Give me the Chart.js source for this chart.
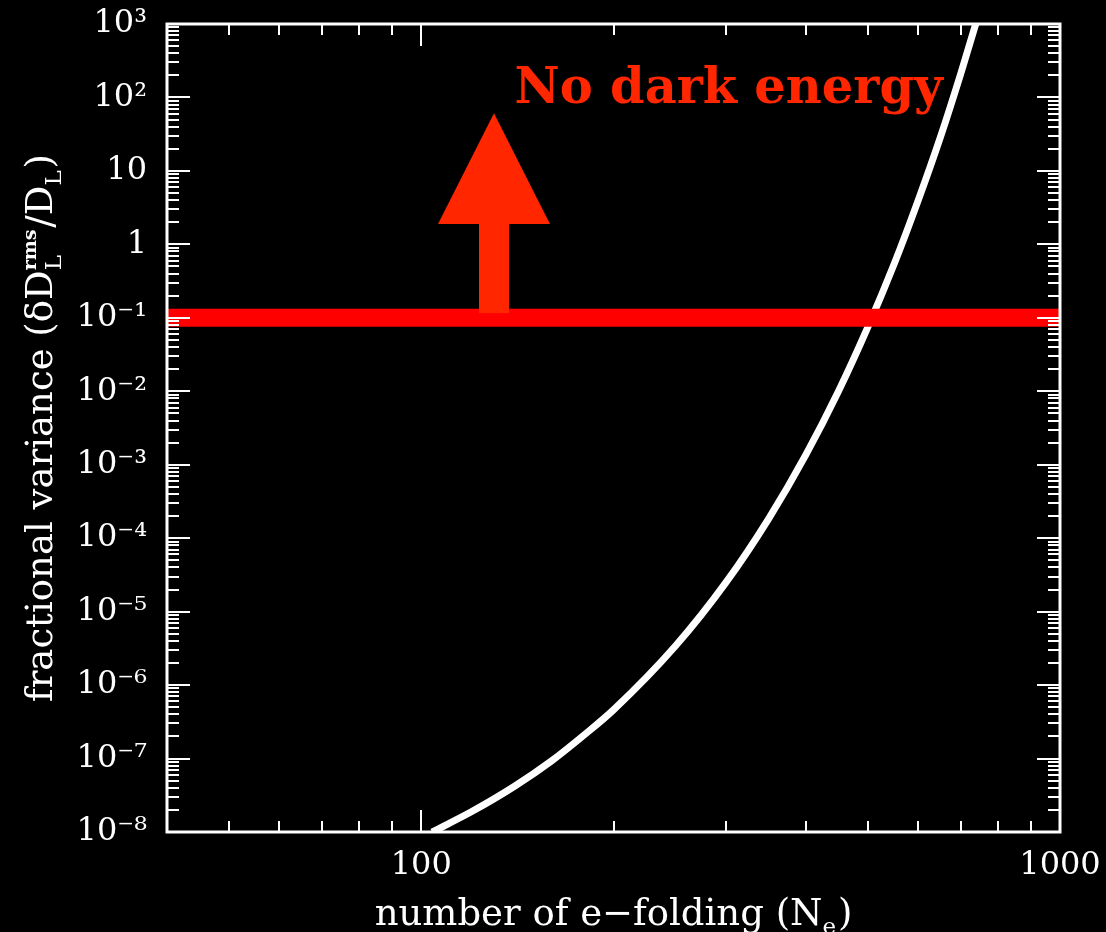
<!DOCTYPE html>
<html>
<head>
<meta charset="utf-8">
<script src="https://cdn.jsdelivr.net/npm/chart.js@4.4.1/dist/chart.umd.min.js"></script>
<style>
html,body{margin:0;padding:0;background:#000;}
#wrap{width:1106px;height:932px;position:relative;}
canvas{display:block;}
</style>
</head>
<body>
<div id="wrap"><canvas id="c" width="1106" height="932"></canvas></div>
<script>
// ---- data ----
const curveN   = [104, 120, 140, 160, 180, 200, 250, 300, 350, 400, 450, 500, 550, 600, 650, 700, 738];
const curveVar = [1.0e-8, 1.9e-8, 4.2e-8, 9.3e-8, 2.1e-7, 4.6e-7, 3.4e-6, 2.5e-5, 1.85e-4, 1.36e-3, 1.0e-2, 7.4e-2, 0.54, 4.0, 29, 217, 1000];
const thresholdN   = [40, 1000];
const thresholdVar = [0.1, 0.1];

const xTickValues = [40, 50, 60, 70, 80, 90, 100, 200, 300, 400, 500, 600, 700, 800, 900, 1000];
const xTickLabels = ['', '', '', '', '', '', '100', '', '', '', '', '', '', '', '', '1000'];
const yDecades     = [1e-8, 1e-7, 1e-6, 1e-5, 1e-4, 1e-3, 1e-2, 1e-1, 1, 10, 100, 1000];
const yDecadeLabels = ['10\u207B\u2078', '10\u207B\u2077', '10\u207B\u2076', '10\u207B\u2075', '10\u207B\u2074', '10\u207B\u00B3', '10\u207B\u00B2', '10\u207B\u00B9', '1', '10', '10\u00B2', '10\u00B3'];
const yMinorMultipliers = [2, 3, 4, 5, 6, 7, 8, 9];

const noteText = 'No dark energy';
const noteN = 140, noteVar = 84;
const arrowN = 130, arrowTipVar = 61, arrowHeadVar = 1.9, arrowTailVar = 0.116;

const xTitleSegs = [{t: 'number of e\u2212folding (N'}, {t: 'e', sub: true}, {t: ')'}];
const yTitleSegs = [{t: 'fractional variance (\u03B4D'}, {stackSup: 'rms', stackSub: 'L'}, {t: '/D'}, {t: 'L', sub: true}, {t: ')'}];

// ---- styles ----
const ACCENT = '#ff2600';
const FONT = "'DejaVu Serif', serif";

function isDecade(v) {
  const l = Math.log10(v);
  return Math.abs(l - Math.round(l)) < 1e-6;
}
const yTickValues = [];
yDecades.forEach((d, i) => {
  yTickValues.push(d);
  if (i < yDecades.length - 1) yMinorMultipliers.forEach(m => yTickValues.push(d * m));
});
yTickValues.sort((a, b) => a - b);

function richWidth(ctx, segs, size) {
  let w = 0;
  segs.forEach(s => {
    if (s.stackSup !== undefined) {
      ctx.font = `bold ${Math.round(size * 0.5)}px ${FONT}`;
      const a = ctx.measureText(s.stackSup).width;
      ctx.font = `${Math.round(size * 0.62)}px ${FONT}`;
      const b = ctx.measureText(s.stackSub).width;
      w += Math.max(a, b) + size * 0.05;
    } else if (s.sub) {
      ctx.font = `${Math.round(size * 0.62)}px ${FONT}`;
      w += ctx.measureText(s.t).width + size * 0.05;
    } else {
      ctx.font = `${size}px ${FONT}`;
      w += ctx.measureText(s.t).width;
    }
  });
  return w;
}
function drawRich(ctx, segs, size, color) {
  const total = richWidth(ctx, segs, size);
  let x = -total / 2;
  ctx.fillStyle = color;
  ctx.textBaseline = 'alphabetic';
  ctx.textAlign = 'left';
  segs.forEach(s => {
    if (s.stackSup !== undefined) {
      ctx.font = `bold ${Math.round(size * 0.5)}px ${FONT}`;
      const a = ctx.measureText(s.stackSup).width;
      ctx.fillText(s.stackSup, x, -size * 0.42);
      ctx.font = `${Math.round(size * 0.62)}px ${FONT}`;
      const b = ctx.measureText(s.stackSub).width;
      ctx.fillText(s.stackSub, x, size * 0.25);
      x += Math.max(a, b) + size * 0.05;
    } else if (s.sub) {
      ctx.font = `${Math.round(size * 0.62)}px ${FONT}`;
      ctx.fillText(s.t, x, size * 0.25);
      x += ctx.measureText(s.t).width + size * 0.05;
    } else {
      ctx.font = `${size}px ${FONT}`;
      ctx.fillText(s.t, x, 0);
      x += ctx.measureText(s.t).width;
    }
  });
}

const blackBg = {
  id: 'blackBg',
  beforeDraw(chart) {
    const ctx = chart.ctx;
    ctx.save();
    ctx.fillStyle = '#000';
    ctx.fillRect(0, 0, chart.width, chart.height);
    ctx.restore();
  }
};

const frameAndDecor = {
  id: 'frameAndDecor',
  afterDatasetsDraw(chart) {
    const ctx = chart.ctx;
    const xs = chart.scales.x, ys = chart.scales.y;
    const a = chart.chartArea;
    ctx.save();
    // arrow
    const ax = xs.getPixelForValue(arrowN);
    const tipY = ys.getPixelForValue(arrowTipVar);
    const headY = ys.getPixelForValue(arrowHeadVar);
    const tailY = ys.getPixelForValue(arrowTailVar);
    ctx.fillStyle = ACCENT;
    ctx.beginPath();
    ctx.moveTo(ax, tipY);
    ctx.lineTo(ax + 56, headY);
    ctx.lineTo(ax - 56, headY);
    ctx.closePath();
    ctx.fill();
    ctx.fillRect(ax - 15, headY - 0.5, 30, tailY - headY + 0.5);
    // note text
    const nx = xs.getPixelForValue(noteN);
    const ny = ys.getPixelForValue(noteVar);
    ctx.font = `bold 48px ${FONT}`;
    const w = ctx.measureText(noteText).width;
    const size = 48 * 428 / w;
    ctx.font = `bold ${size.toFixed(1)}px ${FONT}`;
    ctx.textBaseline = 'alphabetic';
    ctx.textAlign = 'left';
    ctx.fillText(noteText, nx, ny);

    // ticks (inward, mirrored)
    ctx.strokeStyle = '#fff';
    ctx.lineWidth = 2;
    ctx.beginPath();
    ys.ticks.forEach(t => {
      const py = Math.round(ys.getPixelForValue(t.value));
      const len = isDecade(t.value) ? 23 : 12;
      ctx.moveTo(a.left, py); ctx.lineTo(a.left + len, py);
      ctx.moveTo(a.right, py); ctx.lineTo(a.right - len, py);
    });
    xs.ticks.forEach(t => {
      const px = Math.round(xs.getPixelForValue(t.value));
      const len = isDecade(t.value) ? 22 : 11;
      ctx.moveTo(px, a.bottom); ctx.lineTo(px, a.bottom - len);
      ctx.moveTo(px, a.top); ctx.lineTo(px, a.top + len);
    });
    ctx.stroke();
    // frame
    ctx.lineWidth = 3;
    ctx.strokeRect(a.left, a.top, a.right - a.left, a.bottom - a.top);
    ctx.restore();
  },
  afterDraw(chart) {
    const ctx = chart.ctx;
    const a = chart.chartArea;
    ctx.save();
    ctx.translate((a.left + a.right) / 2, 925);
    drawRich(ctx, xTitleSegs, 37, '#fff');
    ctx.restore();
    ctx.save();
    ctx.translate(52, (a.top + a.bottom) / 2);
    ctx.rotate(-Math.PI / 2);
    drawRich(ctx, yTitleSegs, 37, '#fff');
    ctx.restore();
  }
};

function zeroPad(s) { s.paddingLeft = 0; s.paddingRight = 0; s.paddingTop = 0; s.paddingBottom = 0; }

const curveData = curveN.map((n, i) => ({x: n, y: curveVar[i]}));
const thresholdData = thresholdN.map((n, i) => ({x: n, y: thresholdVar[i]}));

new Chart(document.getElementById('c'), {
  type: 'line',
  data: {
    datasets: [
      {
        label: 'threshold',
        data: thresholdData,
        borderColor: '#ff0000',
        borderWidth: 18,
        borderCapStyle: 'butt',
        pointRadius: 0,
        order: 0
      },
      {
        label: 'fractional variance',
        data: curveData,
        borderColor: '#ffffff',
        borderWidth: 7,
        borderCapStyle: 'butt',
        pointRadius: 0,
        cubicInterpolationMode: 'monotone',
        order: 1
      }
    ]
  },
  options: {
    responsive: false,
    devicePixelRatio: 1,
    animation: false,
    events: [],
    layout: {padding: {left: 0, top: 24, right: 46, bottom: 0}},
    plugins: {legend: {display: false}, tooltip: {enabled: false}, title: {display: false}},
    scales: {
      x: {
        type: 'logarithmic',
        min: 40, max: 1000,
        afterBuildTicks: s => { s.ticks = xTickValues.map(v => ({value: v})); },
        afterFit: s => { s.height = 100; zeroPad(s); },
        grid: {display: false, drawTicks: false},
        border: {display: false},
        ticks: {
          autoSkip: false, maxRotation: 0, padding: 14, color: '#fff',
          font: {family: FONT, size: 32},
          callback: (v) => { const i = xTickValues.findIndex(t => Math.abs(t - v) < 1e-9 * t); return i >= 0 ? xTickLabels[i] : ''; }
        }
      },
      y: {
        type: 'logarithmic',
        min: 1e-8, max: 1000,
        afterBuildTicks: s => { s.ticks = yTickValues.map(v => ({value: v})); },
        afterFit: s => { s.width = 167; zeroPad(s); },
        grid: {display: false, drawTicks: false},
        border: {display: false},
        ticks: {
          autoSkip: false, padding: 20, color: '#fff',
          font: {family: FONT, size: 32},
          callback: (v) => { const i = yDecades.findIndex(t => Math.abs(t - v) < 1e-6 * t); return i >= 0 ? yDecadeLabels[i] : ''; }
        }
      }
    }
  },
  plugins: [blackBg, frameAndDecor]
});
</script>
</body>
</html>
